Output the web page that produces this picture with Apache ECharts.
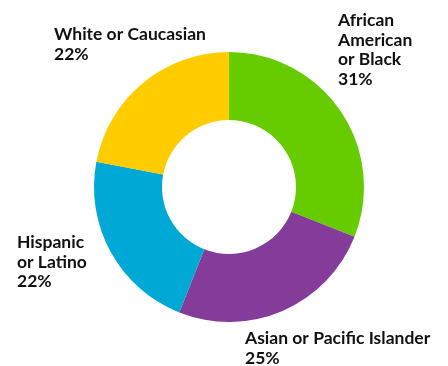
<!DOCTYPE html>
<html>
<head>
<meta charset="utf-8">
<script src="https://cdn.jsdelivr.net/npm/echarts@6/dist/echarts.min.js"></script>
<style>
  html, body { margin: 0; padding: 0; background: #fff; }
  #chart { width: 448px; height: 366px; }
</style>
</head>
<body>
<div id="chart"></div>
<script>
// Share of respondents by race / ethnicity
const groups = ['African\nAmerican\nor Black', 'Asian or Pacific Islander', 'Hispanic\nor Latino', 'White or Caucasian'];
const shares = [31, 25, 22, 22];
const colors = ['#66CC00', '#843B9A', '#00A8D6', '#FFCC00'];

// Where each label block sits (left, top)
const labelSpots = [[338, 11], [245, 329], [17, 233], [54, 25]];

const chart = echarts.init(document.getElementById('chart'));
chart.setOption({
  animation: false,
  series: [{
    type: 'pie',
    center: [229, 187],
    radius: [67, 135],
    startAngle: 90,
    clockwise: true,
    silent: true,
    data: groups.map((g, i) => ({
      name: g,
      value: shares[i],
      itemStyle: { color: colors[i] }
    })),
    label: {
      show: true,
      formatter: p => p.name + '\n' + p.value + '%',
      fontFamily: 'Lato',
      fontWeight: 'bold',
      fontSize: 17.5,
      lineHeight: 19.5,
      color: '#111',
      align: 'left',
      overflow: 'none',
      width: 300
    },
    labelLine: { show: false },
    labelLayout: p => ({
      x: labelSpots[p.dataIndex][0],
      y: labelSpots[p.dataIndex][1],
      align: 'left',
      verticalAlign: 'top'
    })
  }]
});
</script>
</body>
</html>
